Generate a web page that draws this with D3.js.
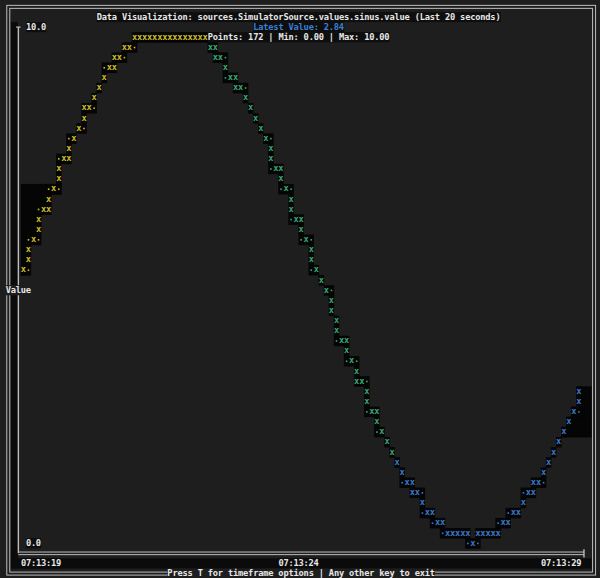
<!DOCTYPE html>
<html>
<head>
<meta charset="utf-8">
<script src="https://d3js.org/d3.v7.min.js"></script>
<style>
  body { margin: 0; background: #1e1e1e; }
  svg { display: block; }
  text { font-family: "DejaVu Sans Mono", "Liberation Mono", monospace; font-weight: bold; font-size: 8.7px; }
</style>
</head>
<body>
<svg id="chart" width="600" height="578"></svg>
<script>
// seconds after 07:13:19 and value of every drawn marker
var times = [
  0.00, 0.09, 0.09, 0.18, 0.27, 0.27, 0.36, 0.45, 0.45, 0.55, 0.64, 0.64, 0.73, 0.82, 0.82, 0.91,
  1.00, 1.09, 1.09, 1.18, 1.27, 1.36, 1.45, 1.55, 1.64, 1.64, 1.73, 1.82, 1.91,
  2.00, 2.09, 2.18, 2.27, 2.36, 2.45, 2.55, 2.64, 2.73, 2.82, 2.91, 3.00, 3.09, 3.18, 3.27,
  3.36, 3.45, 3.45, 3.55, 3.64, 3.73, 3.82, 3.82, 3.91, 4.00, 4.09, 4.18, 4.27, 4.36, 4.45, 4.45,
  4.55, 4.64, 4.64, 4.73, 4.82, 4.82, 4.91, 5.00, 5.00, 5.09, 5.18, 5.18, 5.27, 5.36, 5.45, 5.55,
  5.55, 5.64, 5.64, 5.73, 5.82, 5.82, 5.91, 6.00, 6.00, 6.09, 6.18, 6.18, 6.27, 6.36, 6.36, 6.45,
  6.55, 6.64,
  6.73, 6.82, 6.91, 7.00, 7.00, 7.09, 7.18, 7.27, 7.36, 7.45, 7.55, 7.64, 7.73, 7.82, 7.91, 8.00,
  8.09, 8.18, 8.27, 8.36, 8.45, 8.55, 8.64, 8.73, 8.82, 8.91, 9.00, 9.09, 9.18, 9.18, 9.27, 9.36,
  9.45, 9.55, 9.64, 9.73, 9.82, 9.91, 10.00, 10.00
];
var values = [
  5.4, 5.6, 5.8, 6.0, 6.2, 6.4, 6.6, 6.6, 6.8, 7.0, 7.2, 7.4, 7.6, 7.6, 7.8, 8.0,
  8.2, 8.4, 8.6, 8.6, 8.8, 9.0, 9.2, 9.4, 9.4, 9.6, 9.6, 9.8, 9.8,
  10, 10, 10, 10, 10, 10, 10, 10, 10, 10, 10, 10, 10, 10, 10,
  9.8, 9.8, 9.6, 9.6, 9.4, 9.2, 9.2, 9.0, 9.0, 8.8, 8.6, 8.4, 8.2, 8.0, 7.8, 7.6,
  7.4, 7.4, 7.2, 7.0, 6.8, 6.6, 6.4, 6.4, 6.2, 6.0, 5.8, 5.6, 5.4, 5.2, 5.0, 4.8,
  4.6, 4.4, 4.2, 4.0, 4.0, 3.8, 3.6, 3.4, 3.2, 3.2, 3.0, 2.8, 2.6, 2.6, 2.4, 2.2,
  2.0, 1.8,
  1.6, 1.4, 1.2, 1.2, 1.0, 1.0, 0.8, 0.6, 0.6, 0.4, 0.4, 0.2, 0.2, 0.2, 0.2, 0.2,
  0.0, 0.2, 0.2, 0.2, 0.2, 0.2, 0.4, 0.4, 0.6, 0.6, 0.8, 1.0, 1.0, 1.2, 1.2, 1.4,
  1.6, 1.8, 2.0, 2.2, 2.4, 2.6, 2.8, 3.0
];
// half-cell dots the terminal left beside some markers
var dotTimes = [
  0.09, 0.09, 0.27, 0.27, 0.45, 0.64, 0.64, 0.82, 1.09, 1.27, 1.45, 1.82, 2.00,
  3.64, 3.64, 4.00, 4.45, 4.45, 4.64, 4.82, 4.82, 5.00, 5.18, 5.18, 5.55, 5.64, 5.82, 6.00, 6.18, 6.18, 6.36,
  6.82, 7.18, 7.18, 7.36, 7.55, 8.00, 8.18, 8.55, 8.73, 9.00, 9.36, 10.00
];
var dotValues = [
  5.4, 6.0, 6.0, 6.6, 7.0, 7.0, 7.6, 8.0, 8.2, 8.6, 9.4, 9.6, 9.8,
  9.6, 9.2, 9.0, 8.0, 7.4, 7.0, 7.0, 6.4, 6.0, 6.0, 5.4, 5.0, 4.0, 3.6, 3.6, 3.2, 2.6, 2.2,
  1.2, 1.0, 0.6, 0.4, 0.2, 0.0, 0.0, 0.4, 0.6, 1.0, 1.2, 2.6
];
var segmentColors = ["#cdbd2a", "#3aa874", "#3a7acb"];
var xTicks = [0, 5, 10];
var yTicks = [0, 10];
var startTime = new Date(2024, 0, 1, 7, 13, 19);
var titleText = "Data Visualization: sources.SimulatorSource.values.sinus.value (Last 20 seconds)";
var latestText = "Latest Value: 2.84";
var statsText = "Points: 172 | Min: 0.00 | Max: 10.00";
var footerText = "Press T for timeframe options | Any other key to exit";
var axisLabel = "Value";
// value bands where old cells were not cleared (left of the rise, right of the end)
var staleLeft = [5.4, 7.0];
var staleRight = [2.2, 3.0];

// terminal grid
var CW = 5.05, CH = 10.12, X0 = 0.7, Y0 = 1.8;
var cellX = function(c) { return X0 + c * CW; };
var cellY = function(r) { return Y0 + r * CH; };
var BG = "#1e1e1e", CELLBG = "#050505", LINE = "#bdbdbd", FG = "#e8e8e8";

var svg = d3.select("#chart");
svg.append("rect").attr("width", 600).attr("height", 578).attr("fill", BG);

var x = d3.scaleLinear().domain([0, 10]).range([4, 114]);
var y = d3.scaleLinear().domain([0, 10]).range([53, 3]);
var color = d3.scaleQuantize().domain([0, 10]).range(segmentColors);
var fmt = d3.timeFormat("%H:%M:%S");

var points = times.map(function(t, i) { return {c: Math.round(x(t)), r: Math.round(y(values[i])), t: t}; });
var dots = dotTimes.map(function(t, i) { return {c: Math.round(x(t)), r: Math.round(y(dotValues[i])), t: t}; });

// dark column beside axis and tick label row
svg.append("rect").attr("x", cellX(2)).attr("y", cellY(2)).attr("width", CW * 1.4).attr("height", cellY(56) - cellY(2)).attr("fill", "#0b0b0b");
svg.append("rect").attr("x", cellX(2)).attr("y", cellY(55)).attr("width", cellX(117) - cellX(2)).attr("height", CH).attr("fill", "#0b0b0b");

// stale black regions
var allCells = points.concat(dots);
function rowsIn(band) { return d3.range(Math.round(y(band[1])), Math.round(y(band[0])) + 1); }
var g = svg.append("g");
rowsIn(staleLeft).forEach(function(r) {
  var cs = allCells.filter(function(p) { return p.r === r && p.t < 3.3; }).map(function(p) { return p.c; });
  var right = d3.max(cs);
  g.append("rect").attr("x", cellX(4)).attr("y", cellY(r)).attr("width", cellX(right + 1) - cellX(4)).attr("height", CH + 0.5).attr("fill", CELLBG);
});
rowsIn(staleRight).forEach(function(r) {
  var cs = allCells.filter(function(p) { return p.r === r && p.t > 8.6; }).map(function(p) { return p.c; });
  var left = d3.min(cs);
  g.append("rect").attr("x", cellX(left)).attr("y", cellY(r)).attr("width", cellX(117) - cellX(left)).attr("height", CH + 0.5).attr("fill", CELLBG);
});

// cell backgrounds
g.selectAll("rect.cell").data(allCells).enter().append("rect")
  .attr("class", "cell")
  .attr("x", function(d) { return cellX(d.c) - 0.2; })
  .attr("y", function(d) { return cellY(d.r); })
  .attr("width", CW + 0.4).attr("height", CH + 0.4)
  .attr("fill", CELLBG);

g.selectAll("rect.dot").data(dots).enter().append("rect")
  .attr("class", "dot")
  .attr("x", function(d) { return cellX(d.c) + CW / 2 - 0.8; })
  .attr("y", function(d) { return cellY(d.r) + CH / 2 - 0.6; })
  .attr("width", 1.6).attr("height", 1.6)
  .attr("fill", function(d) { return color(d.t); });

g.selectAll("text.mark").data(points).enter().append("text")
  .attr("class", "mark")
  .attr("x", function(d) { return cellX(d.c) + CW / 2; })
  .attr("y", function(d) { return cellY(d.r) + CH * 0.74; })
  .attr("text-anchor", "middle")
  .attr("fill", function(d) { return color(d.t); })
  .text("x");

// frame (double line)
[-1.5, 1.5].forEach(function(d) {
  svg.append("rect")
    .attr("x", cellX(1) + CW / 2 + d)
    .attr("y", cellY(0) + CH / 2 + d)
    .attr("width", (cellX(117) - cellX(1)) - 2 * d)
    .attr("height", (cellY(56) - cellY(0)) - 2 * d)
    .attr("fill", "none").attr("stroke", LINE).attr("stroke-width", 1);
});

// axes
var axX = cellX(3) + CW / 2;
svg.append("line").attr("x1", axX).attr("x2", axX).attr("y1", cellY(2) + CH / 2).attr("y2", cellY(54) + CH / 2)
  .attr("stroke", LINE).attr("stroke-width", 1.4);
svg.append("line").attr("x1", axX - 2.2).attr("x2", axX + 2.2).attr("y1", cellY(2) + CH / 2).attr("y2", cellY(2) + CH / 2)
  .attr("stroke", LINE).attr("stroke-width", 1.2);
var xEnd = cellX(115) + CW / 2;
[-1.3, 1.3].forEach(function(d) {
  svg.append("line").attr("x1", axX).attr("x2", xEnd).attr("y1", cellY(54) + CH / 2 + d).attr("y2", cellY(54) + CH / 2 + d)
    .attr("stroke", LINE).attr("stroke-width", 1);
});
svg.append("line").attr("x1", xEnd).attr("x2", xEnd).attr("y1", cellY(54) + 1).attr("y2", cellY(55) - 1)
  .attr("stroke", LINE).attr("stroke-width", 1.4);

// text helper
function put(col, row, str, fill, bg) {
  if (bg) svg.append("rect").attr("x", cellX(col)).attr("y", cellY(row)).attr("width", str.length * CW).attr("height", CH).attr("fill", bg);
  svg.append("text").attr("x", cellX(col)).attr("y", cellY(row) + CH * 0.76)
    .attr("textLength", str.length * CW).attr("lengthAdjust", "spacing")
    .attr("fill", fill).text(str);
}

function centerCol(str) { return Math.floor((118 - str.length) / 2); }
put(centerCol(titleText), 1, titleText, FG, "#0e0e0e");
put(centerCol(latestText), 2, latestText, "#3b80d6", "#0e0e0e");
put(centerCol(statsText), 3, statsText, FG, "#0e0e0e");

yTicks.forEach(function(v) {
  var s = v.toFixed(1);
  put(5, Math.round(y(v)) - (v === 10 ? 1 : 0), s, FG, "#0e0e0e");
});
put(1, 28, axisLabel, FG, BG);

xTicks.forEach(function(t, i) {
  var s = fmt(new Date(startTime.getTime() + t * 1000));
  var c = Math.round(x(t));
  var start = i === 0 ? c : (i === xTicks.length - 1 ? c - s.length + 1 : c - s.length / 2);
  put(Math.floor(start), 55, s, FG, "#0b0b0b");
});

put(33, 56, footerText, FG, BG);
</script>
</body>
</html>
